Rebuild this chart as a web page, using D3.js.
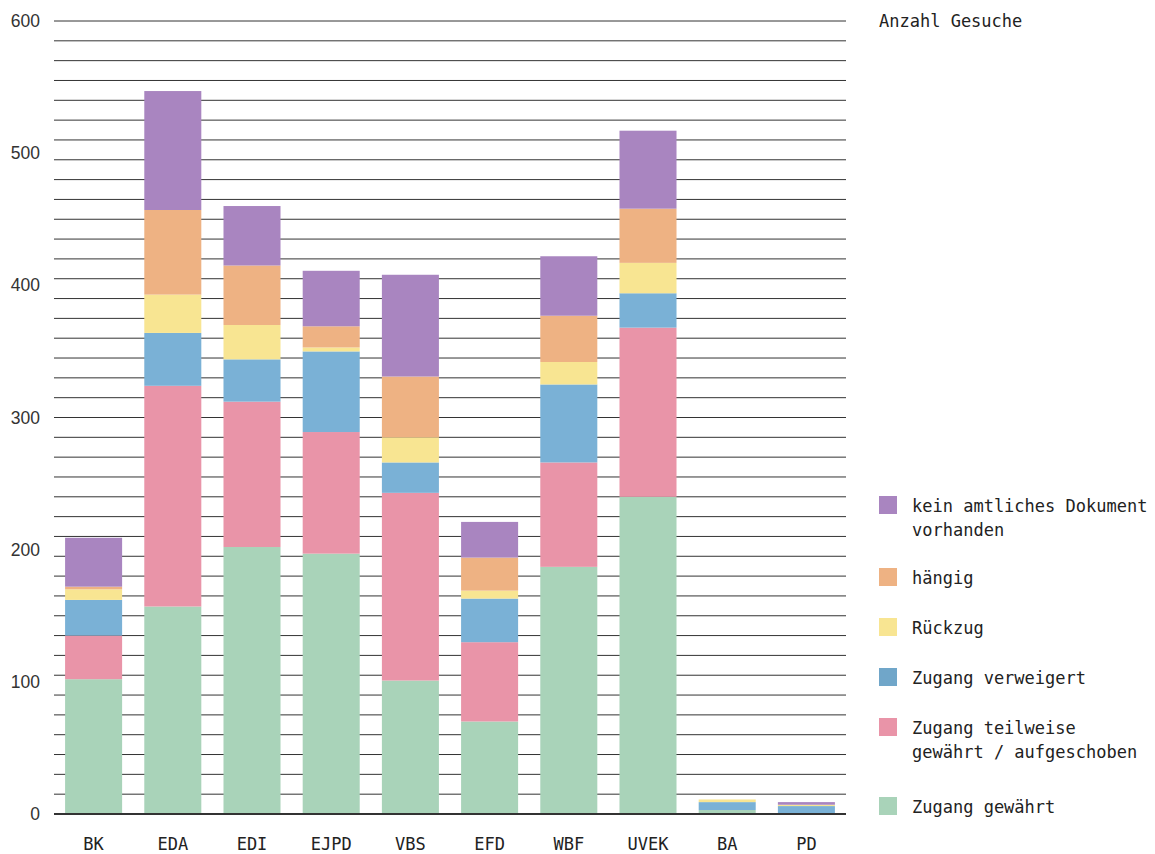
<!DOCTYPE html>
<html><head><meta charset="utf-8">
<script src="https://cdn.jsdelivr.net/npm/d3@7"></script>
<style>
html,body{margin:0;padding:0;background:#fff;}
svg{display:block;}
</style></head>
<body>
<svg id="chart" width="1155" height="854"></svg>
<script>
const categories = ["BK","EDA","EDI","EJPD","VBS","EFD","WBF","UVEK","BA","PD"];
const seriesKeys = ["gewaehrt","teilweise","verweigert","rueckzug","haengig","kein"];
const seriesLabels = [["Zugang gewährt"],["Zugang teilweise","gewährt / aufgeschoben"],["Zugang verweigert"],["Rückzug"],["hängig"],["kein amtliches Dokument","vorhanden"]];
const seriesColors = ["#a9d3b9","#e994a8","#7ab1d6","#f8e592","#eeb283","#a985c0"];
const legendSwatchColors = ["#a9d3b9","#e994a8","#70a6c9","#f8e592","#eeb283","#a985c0"];
const gewaehrt   = [102,157,202,197,101, 70,187,240,3,0];
const teilweise  = [ 33,167,110, 92,142, 60, 79,128,0,0];
const verweigert = [ 27, 40, 32, 61, 23, 33, 59, 26,6,6];
const rueckzug   = [  8, 29, 26,  3, 19,  6, 17, 23,2,1];
const haengig    = [  2, 64, 45, 16, 46, 25, 35, 41,0,0];
const kein       = [ 37, 90, 45, 42, 77, 27, 45, 59,0,2];
const yTicks = [0,100,200,300,400,500,600];
const yTitle = "Anzahl Gesuche";

const values = {gewaehrt, teilweise, verweigert, rueckzug, haengig, kein};
const rows = categories.map((c,i)=>{const r={cat:c}; seriesKeys.forEach(k=>r[k]=values[k][i]); return r;});

const svg = d3.select("#chart");
const x = d3.scaleBand().domain(categories).range([54,846]).paddingInner(0.28).paddingOuter(0.14);
const y = d3.scaleLinear().domain([0,600]).range([814,21]);

// gridlines
svg.append("g").selectAll("line").data(d3.range(0,601,15)).join("line")
  .attr("x1",54).attr("x2",846)
  .attr("y1",d=>y(d)).attr("y2",d=>y(d))
  .attr("stroke","#333").attr("stroke-width",1);

const stack = d3.stack().keys(seriesKeys)(rows);
svg.append("g").selectAll("g").data(stack).join("g")
  .attr("fill",(d,i)=>seriesColors[i])
  .selectAll("rect").data(d=>d).join("rect")
  .attr("x",d=>x(d.data.cat)).attr("width",x.bandwidth())
  .attr("y",d=>y(d[1])).attr("height",d=>y(d[0])-y(d[1]));

// baseline
svg.append("line").attr("x1",54).attr("x2",846).attr("y1",y(0)).attr("y2",y(0))
  .attr("stroke","#333").attr("stroke-width",1.8);

// y axis labels
const yAxis = d3.axisLeft(y).tickValues(yTicks).tickSize(0).tickPadding(0);
const ya = svg.append("g").attr("transform","translate(40,0)").call(yAxis);
ya.select(".domain").remove();
ya.selectAll("text").attr("font-family","'Liberation Sans', Arial, sans-serif").attr("font-size",17.5).attr("fill","#333");

// x axis labels
const xAxis = d3.axisBottom(x).tickSize(0).tickPadding(0);
const xa = svg.append("g").attr("transform","translate(0,838)").call(xAxis);
xa.select(".domain").remove();
xa.selectAll("text").attr("dy","0.71em").attr("font-family","'DejaVu Sans Mono', monospace").attr("font-size",17).attr("fill","#222");

// title
svg.append("text").attr("x",879).attr("y",27).text(yTitle)
  .attr("font-family","'DejaVu Sans Mono', monospace").attr("font-size",17).attr("fill","#222");

// legend (top to bottom)
const legendOrder = [5,4,3,2,1,0];
const swatchY = [496,568,618,668,718,797];
const lg = svg.append("g");
legendOrder.forEach((si,j)=>{
  lg.append("rect").attr("x",879).attr("y",swatchY[j]).attr("width",18).attr("height",18).attr("fill",legendSwatchColors[si]);
  const t = lg.append("text").attr("x",912).attr("y",swatchY[j]+16)
    .attr("font-family","'DejaVu Sans Mono', monospace").attr("font-size",17).attr("fill","#222");
  seriesLabels[si].forEach((line,k)=>{
    t.append("tspan").attr("x",912).attr("dy",k===0?0:23.5).text(line);
  });
});
</script>
</body></html>
